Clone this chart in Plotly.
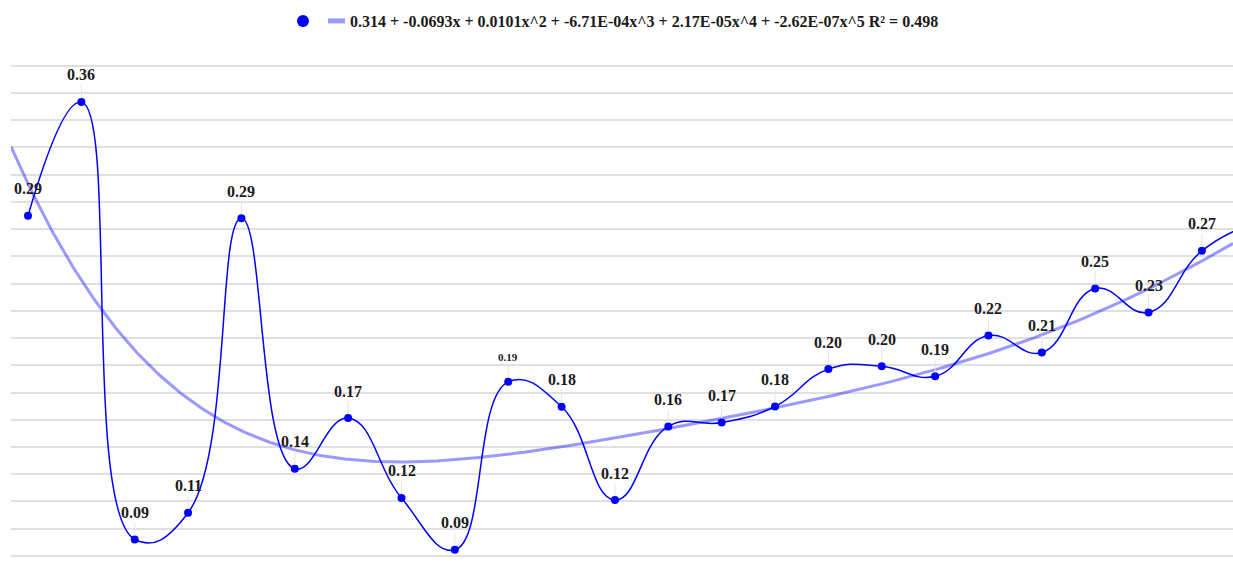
import numpy as np
import plotly.graph_objects as go

# ---- data ----
idx = list(range(24))
values = [0.2942, 0.3648, 0.0933, 0.1098, 0.2927, 0.1371, 0.1686, 0.1190,
          0.0868, 0.1911, 0.1756, 0.1177, 0.1634, 0.1658, 0.1758, 0.1990,
          0.2008, 0.1945, 0.2198, 0.2093, 0.2490, 0.2342, 0.2724, 0.2900]
# polynomial trend coefficients (from the legend), ascending powers
trend_coef = [0.314, -0.0693, 0.0101, -6.71e-4, 2.17e-5, -2.62e-7]
trend_label = "0.314 + -0.0693x + 0.0101x^2 + -6.71E-04x^3 + 2.17E-05x^4 + -2.62E-07x^5 R\u00b2 = 0.498"

# ---- view / style ----
W, H = 1233, 579
X_RANGE = [-0.3186, 22.583]
Y_TOP = 0.40432
Y_BOTTOM = 0.06871
GRID_STEP = 0.016911
SMALL_LABELS = {9}
BLUE = "#0000ff"
TREND = "rgba(0,0,255,0.4)"
FONT = "Liberation Serif"

xt = np.linspace(X_RANGE[0], X_RANGE[1], 400)
yt = np.polynomial.polynomial.polyval(xt, trend_coef)

fig = go.Figure()
fig.add_trace(go.Scatter(x=xt, y=yt, mode="lines", name=trend_label,
                         line=dict(color=TREND, width=3), showlegend=True,
                         legend="legend", hoverinfo="skip"))
fig.add_trace(go.Scatter(x=idx, y=values, mode="lines",
                         line=dict(color=BLUE, width=1.5, shape="spline", smoothing=1.3),
                         showlegend=False))
fig.add_trace(go.Scatter(x=idx, y=values, mode="markers", name="",
                         marker=dict(color=BLUE, size=8), showlegend=True,
                         legend="legend2"))

for i, v in zip(idx, values):
    if i > X_RANGE[1]:
        continue
    small = i in SMALL_LABELS
    fig.add_annotation(x=i, y=v, text=f"{v:.2f}", showarrow=True,
                       arrowhead=0, arrowwidth=1, arrowcolor="#e4e4e4",
                       ax=0, ay=-25 if small else -27, standoff=4,
                       font=dict(family=FONT, size=11 if small else 16,
                                 color="#1a1a1a", weight="bold"))

legend_font = dict(family=FONT, size=16, color="#1a1a1a", weight="bold")
fig.update_layout(
    width=W, height=H,
    margin=dict(l=11, r=0, t=38, b=0),
    paper_bgcolor="white", plot_bgcolor="white",
    legend=dict(orientation="h", xref="container", x=310 / W, xanchor="left",
                yref="container", y=1 - 21 / H, yanchor="middle",
                itemsizing="constant", font=legend_font),
    legend2=dict(orientation="h", xref="container", x=283 / W, xanchor="left",
                 yref="container", y=1 - 21 / H, yanchor="middle",
                 itemsizing="constant", font=legend_font),
    xaxis=dict(range=X_RANGE, showgrid=False, zeroline=False,
               showticklabels=False, showline=False),
    yaxis=dict(range=[Y_BOTTOM, Y_TOP + 0.0002], tick0=Y_TOP, dtick=GRID_STEP,
               showgrid=True, gridcolor="#e0e0e0", gridwidth=1.5,
               zeroline=False, showticklabels=False, showline=False),
    showlegend=True,
)

fig.write_html("out.html", config={"displayModeBar": False},
               post_script="document.body.style.margin='0px';")
